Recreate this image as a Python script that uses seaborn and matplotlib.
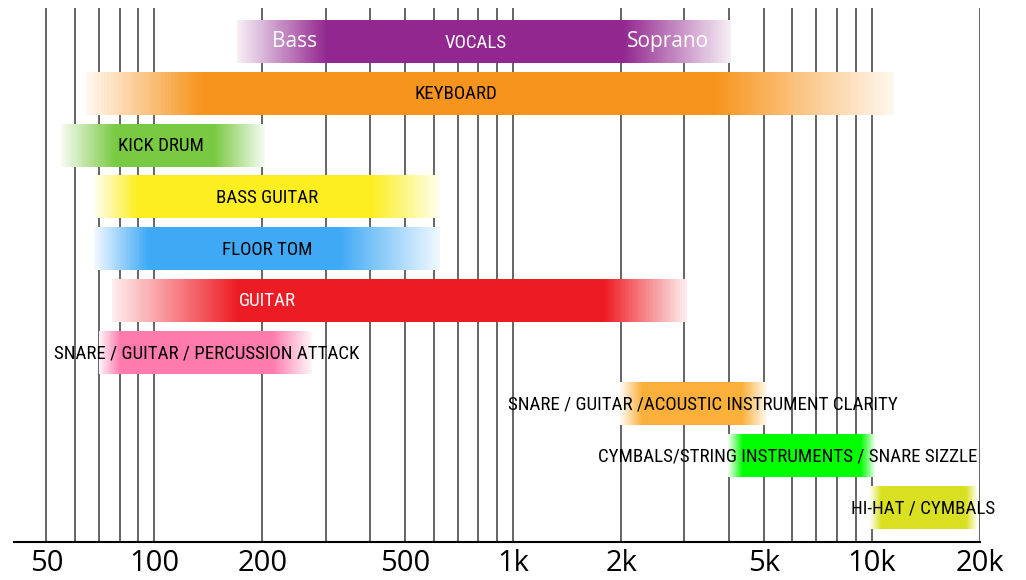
import numpy as np
import matplotlib
matplotlib.use("Agg")
import matplotlib.pyplot as plt
from matplotlib import font_manager as fm
import matplotlib.colors as mcolors
import seaborn as sns

# ---------------- data ----------------
instruments = ["VOCALS", "KEYBOARD", "KICK DRUM", "BASS GUITAR", "FLOOR TOM", "GUITAR",
               "SNARE / GUITAR / PERCUSSION ATTACK",
               "SNARE / GUITAR /ACOUSTIC INSTRUMENT CLARITY",
               "CYMBALS/STRING INSTRUMENTS / SNARE SIZZLE",
               "HI-HAT / CYMBALS"]
low_hz = [170, 65, 55, 68, 68, 76, 70, 1990, 3980, 9900]
high_hz = [4050, 11500, 203, 625, 625, 3050, 275, 5100, 10200, 19600]
label_hz = [784, 690, 104, 206, 206, 206, 140, 3370, 5810, 13900]
vocal_range_labels = ["Bass", "Soprano"]
vocal_range_hz = [245, 2700]
tick_values = [50, 100, 200, 500, 1000, 2000, 5000, 10000, 20000]
tick_labels = ["50", "100", "200", "500", "1k", "2k", "5k", "10k", "20k"]
grid_hz = [50, 60, 70, 80, 90, 100, 200, 300, 400, 500, 600, 700, 800, 900,
           1000, 2000, 3000, 4000, 5000, 6000, 7000, 8000, 9000, 10000, 20000]

# ---------------- style ----------------
bar_colors = ["#92278f", "#f7941d", "#7ac943", "#fcee21", "#3fa9f5", "#ed1c24",
              "#ff7bac", "#fbb03b", "#00ff00", "#d9e021"]
text_colors = ["white", "black", "black", "black", "black", "white",
               "black", "black", "black", "black"]
fade_in = [0.25, 0.32, 0.15, 0.12, 0.15, 0.35, 0.06, 0.06, 0.04, 0.03]   # decades
fade_out = [0.30, 0.50, 0.14, 0.19, 0.28, 0.23, 0.11, 0.07, 0.04, 0.03]

sns.set_theme(style="white")
names = {f.name for f in fm.fontManager.ttflist}
cond_family = None
cond_stretch = "normal"
for cand in ["Liberation Sans Narrow", "Roboto Condensed", "Open Sans Condensed",
             "Noto Sans Condensed"]:
    if cand in names:
        cond_family = cand
        break
if cond_family is None:
    if any(f.name == "DejaVu Sans" and f.stretch == "condensed" for f in fm.fontManager.ttflist):
        cond_family = "DejaVu Sans"
        cond_stretch = "condensed"
    else:
        cond_family = "Roboto"
tick_family = "Open Sans" if "Open Sans" in names else "DejaVu Sans"
plt.rcParams["font.family"] = [tick_family, "DejaVu Sans"]

fig = plt.figure(figsize=(10.26, 5.8), dpi=100)
ax = fig.add_axes([14 / 1026, 1 - 542 / 580, (980 - 14) / 1026, (542 - 8) / 580])
ax.set_xscale("log")
ax.set_xlim(40.6, 20000)
ax.set_ylim(9.666, -0.647)

for g in grid_hz:
    ax.axvline(g, color="#3a3a3a", lw=1.1, zorder=1)

N = 240
white = np.array([1.0, 1.0, 1.0])
for i in range(len(instruments)):
    a0, a1 = np.log10(low_hz[i]), np.log10(high_hz[i])
    edges = np.linspace(a0, a1, N + 1)
    mids = 0.5 * (edges[:-1] + edges[1:])
    t_in = np.clip((mids - a0) / fade_in[i], 0, 1)
    t_out = np.clip((a1 - mids) / fade_out[i], 0, 1)
    t = np.minimum(t_in, t_out)[:, None] * 0.93 + 0.07
    t = np.clip(t, 0, 1)
    base = np.array(mcolors.to_rgb(bar_colors[i]))
    cols = white * (1 - t) + base * t
    lefts = 10 ** edges[:-1]
    widths = 10 ** edges[1:] * 1.002 - lefts
    ax.barh(np.full(N, i), widths, left=lefts, height=0.83, color=cols,
            edgecolor="none", linewidth=0, antialiased=False, zorder=2)
    ax.text(label_hz[i], i + 0.02, instruments[i], ha="center", va="center",
            color=text_colors[i], fontsize=13.6, family=[cond_family, "DejaVu Sans"],
            fontstretch=cond_stretch, zorder=4)

for lab, hz in zip(vocal_range_labels, vocal_range_hz):
    ax.text(hz, 0, lab, ha="center", va="center", color="white", fontsize=15,
            family=[tick_family, "DejaVu Sans"], zorder=4)

ax.set_xticks(tick_values)
ax.set_xticklabels(tick_labels)
ax.minorticks_off()
ax.tick_params(axis="x", length=0, pad=5, labelsize=21, colors="black")
ax.set_yticks([])
sns.despine(ax=ax, left=True, top=True, right=True)
ax.spines["bottom"].set_color("black")
ax.spines["bottom"].set_linewidth(1.5)
ax.grid(False)

fig.savefig("out.png", dpi=100)
